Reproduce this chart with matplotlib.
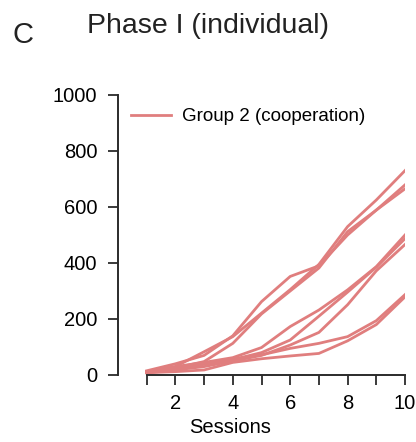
import matplotlib.pyplot as plt
import numpy as np

plt.rcParams['font.family'] = ['Liberation Sans', 'DejaVu Sans']

sessions = np.arange(1, 11)

# cumulative scores per pair, group 2 (cooperation)
pair_1 = [15, 40, 70, 140, 262, 352, 390, 500, 589, 665]
pair_2 = [12, 30, 83, 137, 221, 305, 395, 530, 625, 730]
pair_3 = [10, 25, 48, 113, 218, 300, 382, 512, 589, 679]
pair_4 = [12, 30, 45, 62, 98, 173, 232, 304, 387, 500]
pair_5 = [10, 22, 38, 55, 80, 125, 210, 296, 385, 487]
pair_6 = [8, 18, 30, 50, 70, 107, 152, 251, 372, 466]
pair_7 = [10, 20, 40, 57, 72, 95, 113, 137, 194, 287]
pair_8 = [8, 12, 18, 45, 58, 68, 77, 122, 180, 279]
pairs = [pair_1, pair_2, pair_3, pair_4, pair_5, pair_6, pair_7, pair_8]

col = '#e07e7e'
dark = '#2b2b2b'

fig = plt.figure(figsize=(4.16, 4.42), dpi=100)
ax = fig.add_axes([118/416, 1 - 375/442, 287/416, 280/442])

for i, p in enumerate(pairs):
    ax.plot(sessions, p, color=col, lw=2.0,
            label='Group 2 (cooperation)' if i == 0 else None)

ax.set_xlim(0, 10)
ax.set_ylim(0, 1000)
ax.set_xticks(sessions)
ax.set_xticklabels([str(s) if s % 2 == 0 else '' for s in sessions])
ax.set_yticks([0, 200, 400, 600, 800, 1000])

for side in ['top', 'right']:
    ax.spines[side].set_visible(False)
for side in ['left', 'bottom']:
    ax.spines[side].set_linewidth(1.4)
    ax.spines[side].set_color(dark)
ax.spines['bottom'].set_bounds(1, 10)

ax.tick_params(axis='both', direction='out', length=7, width=1.3,
               color=dark, labelsize=14.5, labelcolor='black')
ax.tick_params(axis='y', pad=8)
ax.tick_params(axis='x', pad=7)
ax.set_xlabel('Sessions', fontsize=14.5)
ax.xaxis.set_label_coords((230 - 118) / 287, -0.155)

ax.legend(loc='upper left', bbox_to_anchor=(0.0, 1.0), frameon=False,
          fontsize=13.5, handlelength=2.1, handletextpad=0.6, borderaxespad=0.3)

fig.text(87/416, 1 - 33/442, 'Phase I (individual)', fontsize=20.5,
         ha='left', va='baseline', color='#222222')
fig.text(12/416, 1 - 43/442, 'C', fontsize=21, ha='left', va='baseline',
         color='#222222')

fig.savefig('out.png', dpi=100)
